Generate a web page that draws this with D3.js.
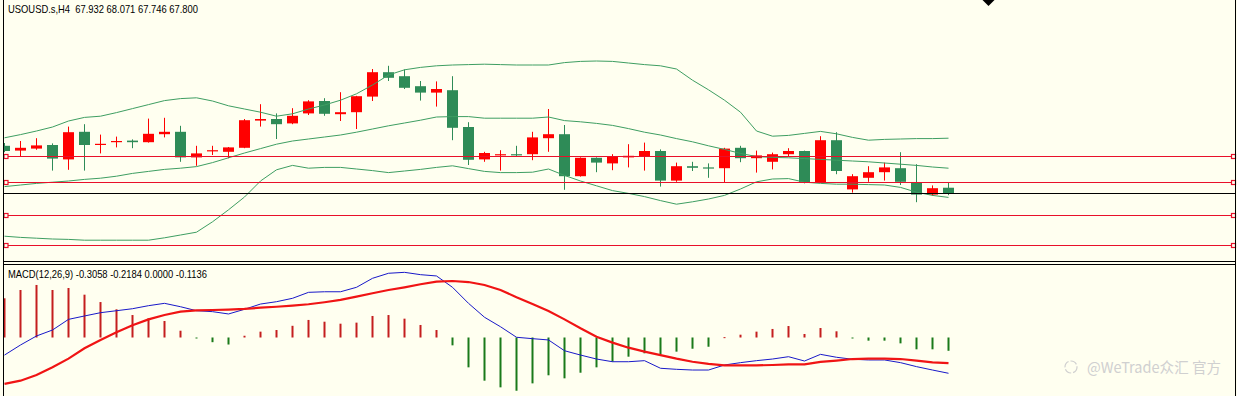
<!DOCTYPE html>
<html><head><meta charset="utf-8">
<script src="https://cdn.jsdelivr.net/npm/d3@7/dist/d3.min.js"></script>
<style>html,body{margin:0;padding:0;background:#FFFFF0;overflow:hidden} text{white-space:pre}</style>
</head><body>
<svg id="c" width="1237" height="396"></svg>
<script>
// ---------- data ----------
const symbolLabel = "USOUSD.s,H4";
const lastQuote = ["67.932", "68.071", "67.746", "67.800"];
const macdLabel = "MACD(12,26,9)";
const macdValues = ["-0.3058", "-0.2184", "0.0000", "-0.1136"];
const watermark = "@WeTrade众汇 官方";

const open  = [68.98,68.86,68.91,69.00,68.64,69.33,69.01,69.07,69.11,69.07,69.27,69.33,68.69,68.84,68.83,68.93,69.61,69.65,69.54,69.79,
               70.10,69.77,69.82,70.21,70.82,70.72,70.47,70.31,70.37,69.45,68.64,68.74,68.77,68.77,69.17,69.27,68.22,68.68,68.54,68.69,
               68.71,68.85,68.11,68.47,68.44,68.42,68.93,68.67,68.58,68.77,68.85,68.07,69.12,67.89,68.18,68.32,68.42,68.06,67.76,67.932];
const high  = [69.05,69.10,69.17,69.04,69.46,69.52,69.26,69.21,69.14,69.66,69.68,69.48,68.98,68.98,68.95,69.65,70.02,69.79,69.92,70.12,
               70.17,70.32,70.23,70.90,70.98,70.89,70.60,70.59,70.72,69.57,68.83,68.87,68.98,69.33,69.90,69.50,68.69,68.69,68.77,69.02,
               69.06,68.89,68.56,68.58,68.54,68.93,68.98,68.86,68.81,68.92,68.86,69.22,69.32,68.27,68.47,68.56,68.82,68.52,67.99,68.071];
const low   = [68.82,68.71,68.88,68.36,68.38,68.36,68.79,68.94,68.92,69.06,69.19,68.58,68.48,68.75,68.67,68.92,69.46,69.15,69.52,69.75,
               69.73,69.60,69.40,70.10,70.60,70.40,70.11,69.96,69.12,68.50,68.58,68.36,68.72,68.62,68.83,67.88,68.21,68.32,68.37,68.44,
               68.36,67.96,68.08,68.35,68.18,68.06,68.57,68.31,68.39,68.71,68.04,68.06,68.27,67.81,68.08,68.11,68.00,67.57,67.73,67.746];
const close = [68.85,68.93,68.99,68.66,69.32,69.00,69.03,69.10,69.07,69.28,69.33,68.69,68.79,68.87,68.94,69.62,69.65,69.52,69.73,70.09,
               69.78,69.82,70.22,70.82,70.68,70.43,70.31,70.40,69.43,68.63,68.80,68.77,68.74,69.19,69.27,68.22,68.68,68.56,68.72,68.73,
               68.85,68.11,68.47,68.43,68.41,68.91,68.67,68.74,68.77,68.85,68.06,69.12,68.35,68.22,68.32,68.44,68.08,67.76,67.92,67.800];

const bbUpper = [69.18,69.26,69.35,69.45,69.60,69.69,69.72,69.81,69.91,70.01,70.11,70.16,70.18,70.10,69.98,69.90,69.82,69.72,69.78,69.90,
                 70.00,70.12,70.28,70.50,70.75,70.88,70.94,70.98,71.00,71.01,71.02,71.01,71.00,71.00,71.00,71.06,71.09,71.10,71.09,71.05,
                 71.01,70.98,70.90,70.62,70.38,70.12,69.82,69.35,69.22,69.24,69.29,69.34,69.28,69.19,69.12,69.14,69.15,69.16,69.16,69.17];
const bbMiddle = [67.96,68.00,68.04,68.07,68.10,68.14,68.17,68.22,68.29,68.34,68.39,68.42,68.46,68.56,68.68,68.80,68.91,69.02,69.10,69.15,
                  69.20,69.25,69.32,69.40,69.48,69.55,69.62,69.70,69.71,69.71,69.67,69.67,69.67,69.67,69.70,69.61,69.58,69.54,69.49,69.41,
                  69.32,69.25,69.16,69.08,68.98,68.89,68.79,68.71,68.69,68.68,68.66,68.64,68.62,68.60,68.58,68.55,68.52,68.49,68.45,68.42];
const bbLower = [66.72,66.69,66.67,66.65,66.64,66.62,66.62,66.62,66.62,66.62,66.68,66.75,66.82,67.08,67.38,67.70,68.10,68.38,68.49,68.42,
                 68.44,68.44,68.40,68.36,68.31,68.35,68.39,68.44,68.48,68.41,68.34,68.31,68.31,68.32,68.40,68.24,68.10,67.98,67.86,67.79,
                 67.71,67.61,67.52,67.58,67.65,67.74,67.90,68.08,68.15,68.16,68.07,68.04,68.02,68.02,68.01,68.00,67.94,67.82,67.74,67.69];

const levels = [68.72, 68.07, 67.24, 66.49];
const currentPrice = 67.80;

const macdHist = [0.335,0.406,0.449,0.406,0.423,0.366,0.303,0.241,0.192,0.164,0.141,0.058,-0.005,-0.040,-0.060,0.015,0.050,0.064,0.100,0.150,
                  0.135,0.118,0.127,0.184,0.192,0.161,0.107,0.064,-0.067,-0.255,-0.369,-0.426,-0.455,-0.392,-0.323,-0.349,-0.301,-0.255,-0.207,-0.164,
                  -0.135,-0.144,-0.121,-0.096,-0.079,0.003,0.024,0.050,0.073,0.098,0.030,0.081,0.053,-0.005,-0.027,-0.027,-0.050,-0.101,-0.101,-0.1136];
const macdMain = [-0.150,-0.064,0.013,0.064,0.155,0.184,0.212,0.229,0.246,0.272,0.292,0.263,0.229,0.221,0.201,0.241,0.286,0.306,0.335,0.386,
                  0.391,0.391,0.429,0.506,0.549,0.557,0.537,0.526,0.429,0.292,0.173,0.092,0.002,-0.010,-0.021,-0.113,-0.150,-0.184,-0.207,-0.207,
                  -0.198,-0.263,-0.272,-0.278,-0.278,-0.235,-0.215,-0.198,-0.184,-0.164,-0.201,-0.144,-0.169,-0.186,-0.192,-0.192,-0.215,-0.249,-0.278,-0.3058];
const macdSignal = [-0.397,-0.369,-0.321,-0.255,-0.181,-0.092,-0.021,0.044,0.104,0.155,0.192,0.221,0.232,0.235,0.238,0.244,0.255,0.263,0.272,0.284,
                    0.301,0.321,0.349,0.378,0.406,0.429,0.455,0.477,0.483,0.474,0.449,0.406,0.344,0.286,0.226,0.155,0.079,0.007,-0.044,-0.087,
                    -0.121,-0.150,-0.181,-0.207,-0.226,-0.238,-0.238,-0.238,-0.235,-0.229,-0.229,-0.209,-0.198,-0.184,-0.181,-0.181,-0.184,-0.198,-0.212,-0.2184];

// ---------- drawing ----------
const W = 1237, H = 396;
const BG = "#FFFFF0", UP = "#FF0000", DOWN = "#2E8B57", LVL = "#E8102A";
const svg = d3.select("#c");
svg.append("rect").attr("width", W).attr("height", H).attr("fill", BG);

const L = 3.5, R = 1235.5;
const mainTop = 0, mainBot = 261.5, macdTop = 264.5, macdBot = 396;
const idx = open.map((d, i) => i);

const x = d3.scaleLinear().domain([0, idx.length - 1]).range([4.5, 948.5]);
const yP = d3.scaleLinear().domain([66.10, 72.55]).range([261, 3]);
const yM = d3.scaleLinear().domain([-0.5, 0.6]).range([396, 267.3]);

const defs = svg.append("defs");
defs.append("clipPath").attr("id", "cpMain").append("rect")
  .attr("x", L + 0.5).attr("y", mainTop).attr("width", R - L - 1).attr("height", mainBot - mainTop - 0.5);
defs.append("clipPath").attr("id", "cpMacd").append("rect")
  .attr("x", L + 0.5).attr("y", macdTop + 0.5).attr("width", R - L - 1).attr("height", macdBot - macdTop);

// main panel
const gMain = svg.append("g").attr("clip-path", "url(#cpMain)");
const col = i => close[i] > open[i] ? UP : DOWN;

gMain.selectAll("line.wick").data(idx).join("line").attr("class", "wick")
  .attr("x1", i => x(i)).attr("x2", i => x(i))
  .attr("y1", i => yP(high[i])).attr("y2", i => yP(low[i]))
  .attr("stroke", col).attr("stroke-width", 1);

gMain.selectAll("rect.body").data(idx).join("rect").attr("class", "body")
  .attr("x", i => x(i) - 5.5).attr("width", 11)
  .attr("y", i => yP(Math.max(open[i], close[i])))
  .attr("height", i => Math.max(1.2, Math.abs(yP(open[i]) - yP(close[i]))))
  .attr("fill", col);

const bbLine = arr => d3.line().x((d, i) => x(i)).y(d => yP(d))(arr);
[bbUpper, bbMiddle, bbLower].forEach(arr => {
  gMain.append("path").attr("d", bbLine(arr)).attr("fill", "none")
    .attr("stroke", "#3E9E62").attr("stroke-width", 1);
});

// horizontal levels
gMain.selectAll("line.lvl").data(levels).join("line").attr("class", "lvl")
  .attr("x1", L).attr("x2", R).attr("y1", d => Math.round(yP(d)) + 0.5).attr("y2", d => Math.round(yP(d)) + 0.5)
  .attr("stroke", LVL).attr("stroke-width", 1.2);
gMain.append("line").attr("x1", L).attr("x2", R)
  .attr("y1", Math.round(yP(currentPrice)) + 0.5).attr("y2", Math.round(yP(currentPrice)) + 0.5)
  .attr("stroke", "#000").attr("stroke-width", 1);
[6, 1233.5].forEach(cx => {
  svg.selectAll(null).data(levels).join("rect")
    .attr("x", cx - 2).attr("y", d => Math.round(yP(d)) - 1.5).attr("width", 4).attr("height", 4)
    .attr("fill", BG).attr("stroke", LVL).attr("stroke-width", 1.2);
});

// top text
svg.append("text").attr("x", 8).attr("y", 13)
  .attr("font-family", "Liberation Sans, Arial, sans-serif").attr("font-size", "10.5px").attr("fill", "#000")
  .attr("textLength", 190).attr("lengthAdjust", "spacingAndGlyphs")
  .text(symbolLabel + "  " + lastQuote.join(" "));

// shift triangle
svg.append("path").attr("d", "M982.5,0 L994.5,0 L988.5,6 Z").attr("fill", "#000");

// MACD panel
const gM = svg.append("g").attr("clip-path", "url(#cpMacd)");
gM.selectAll("rect.hist").data(idx).join("rect").attr("class", "hist")
  .attr("x", i => x(i) - 1).attr("width", 2)
  .attr("y", i => Math.min(yM(0), yM(macdHist[i])))
  .attr("height", i => Math.max(1, Math.abs(yM(macdHist[i]) - yM(0))))
  .attr("fill", i => macdHist[i] >= 0 ? "#C41E1E" : "#1A7A1A");

const mLine = arr => d3.line().x((d, i) => x(i)).y(d => yM(d))(arr);
gM.append("path").attr("d", mLine(macdMain)).attr("fill", "none")
  .attr("stroke", "#1818C8").attr("stroke-width", 1);
gM.append("path").attr("d", mLine(macdSignal)).attr("fill", "none")
  .attr("stroke", "#F01414").attr("stroke-width", 2.2);

svg.append("text").attr("x", 8).attr("y", 277.5)
  .attr("font-family", "Liberation Sans, Arial, sans-serif").attr("font-size", "10.5px").attr("fill", "#000")
  .attr("textLength", 199).attr("lengthAdjust", "spacingAndGlyphs")
  .text(macdLabel + " " + macdValues.join(" "));

// watermark
svg.append("circle").attr("cx", 1071).attr("cy", 367).attr("r", 6)
  .attr("fill", "none").attr("stroke", "#CFCFCF").attr("stroke-width", 1.2).attr("stroke-dasharray", "7 2");
svg.append("text").attr("x", 1087).attr("y", 372.5)
  .attr("font-family", "Noto Sans CJK SC, sans-serif").attr("font-size", "15px").attr("fill", "#D0D0D0")
  .attr("textLength", 134).attr("lengthAdjust", "spacingAndGlyphs")
  .text(watermark);

// frame
const frame = svg.append("g").attr("stroke", "#000").attr("stroke-width", 1).attr("fill", "none");
frame.append("line").attr("x1", L).attr("x2", L).attr("y1", 0).attr("y2", H);
frame.append("line").attr("x1", R).attr("x2", R).attr("y1", 0).attr("y2", H);
frame.append("line").attr("x1", L).attr("x2", R).attr("y1", mainBot).attr("y2", mainBot);
frame.append("line").attr("x1", L).attr("x2", R).attr("y1", macdTop).attr("y2", macdTop);
</script>
</body></html>
